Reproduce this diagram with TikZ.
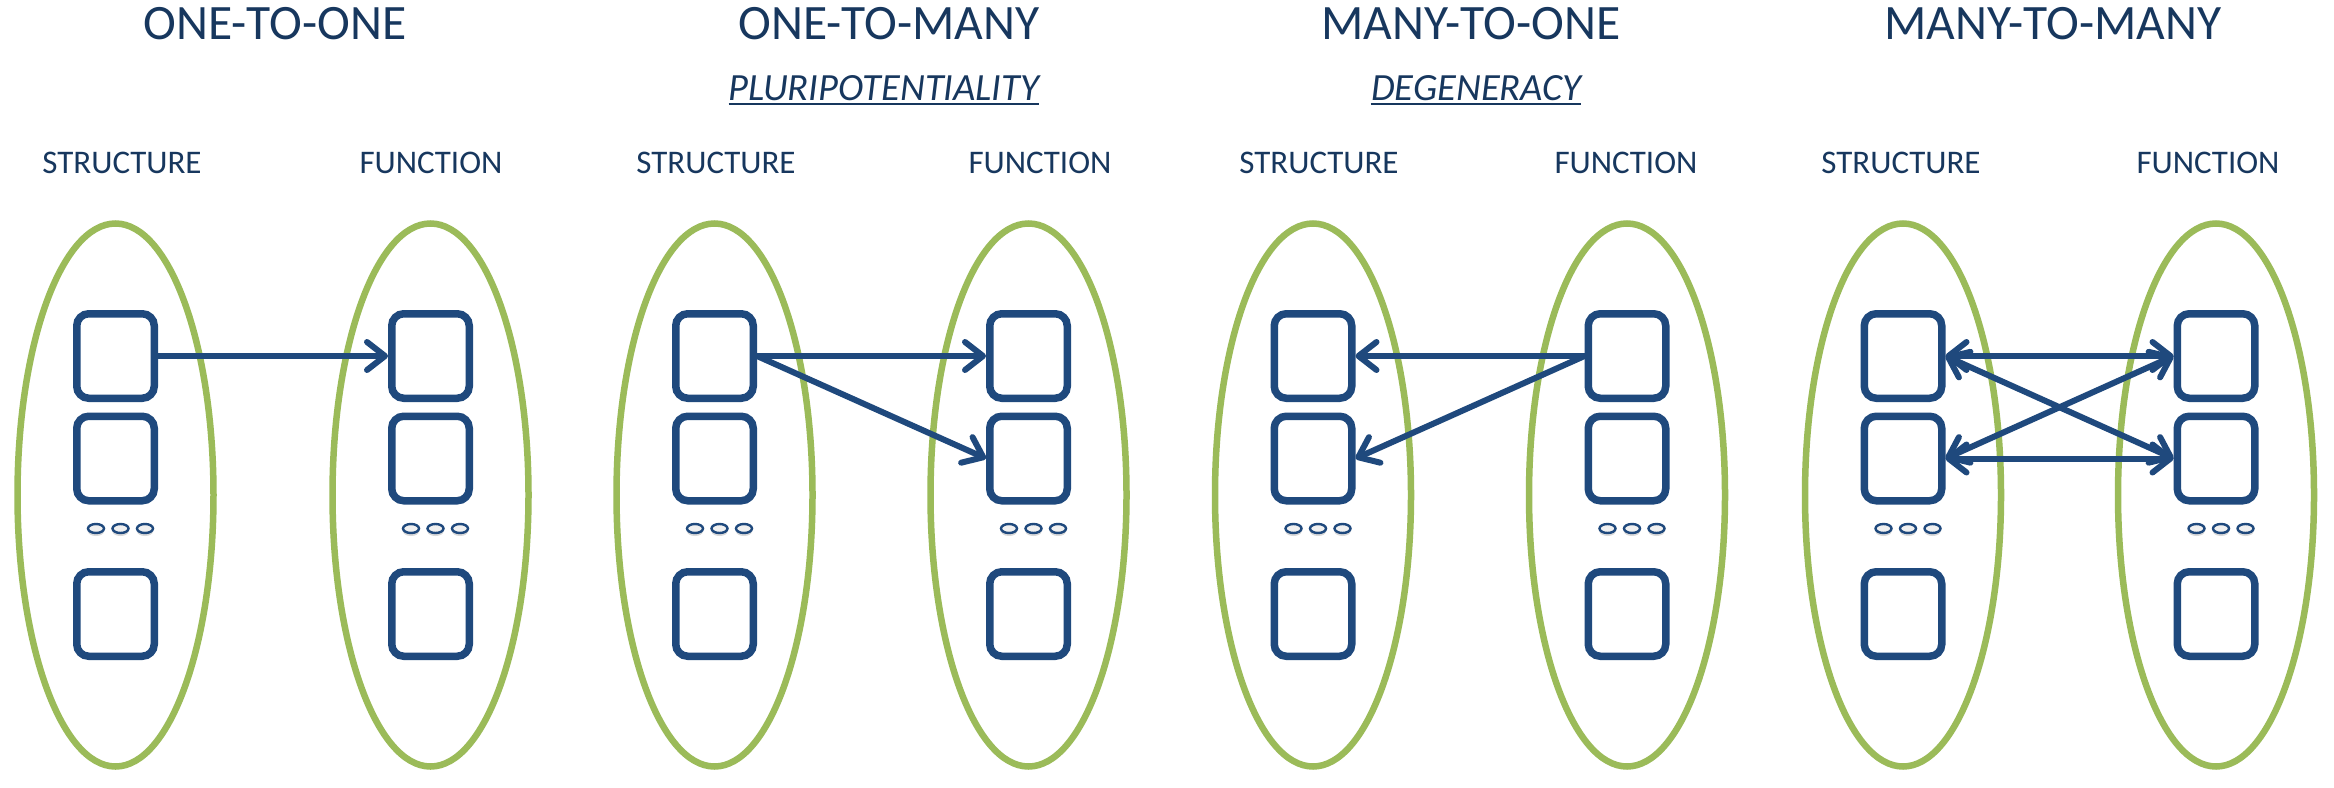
\documentclass[tikz,border=0pt]{standalone}
\usepackage{fontspec}
\setmainfont{Carlito}
\usetikzlibrary{arrows.meta,shapes.geometric,shadows}
\definecolor{navy}{HTML}{17375E}
\definecolor{boxblue}{HTML}{1F497D}
\definecolor{leaf}{HTML}{9BBB59}
\tikzset{
  grp/.style={ellipse, draw=leaf, line width=6.5pt, minimum width=196pt, minimum height=543pt, inner sep=0pt, outer sep=0pt},
  cell/.style={rectangle, rounded corners=12pt, draw=boxblue, line width=7.5pt, fill=white,
    minimum width=77.5pt, minimum height=84.5pt, inner sep=0pt,
    drop shadow={shadow xshift=0pt, shadow yshift=-3pt, opacity=0.16, fill=black}},
  dotmark/.style={ellipse, draw=boxblue, line width=2.4pt, fill=gray!12, minimum width=16pt, minimum height=9pt, inner sep=0pt,
    drop shadow={shadow xshift=0pt, shadow yshift=-3pt, opacity=0.15, fill=black}},
  ttl/.style={text=navy, inner sep=0pt, anchor=base, font=\fontsize{49.5}{49.5}\selectfont},
  lbl/.style={text=navy, inner sep=0pt, anchor=base, font=\fontsize{33}{33}\selectfont},
  subttl/.style={text=navy, inner sep=0pt, anchor=base, font=\fontsize{38.5}{38.5}\selectfont\itshape},
  uline/.style={draw=navy, line width=2.4pt},
  barb/.tip={Straight Barb[length=18pt,width=28pt,round]},
  conn/.style={draw=boxblue, line width=6pt, -barb},
  bconn/.style={draw=boxblue, line width=6pt, barb-barb}
}
\begin{document}
\begin{tikzpicture}[x=1pt,y=-1pt]
\fill[white] (0,0) rectangle (2334,787);
\useasboundingbox (0,0) rectangle (2334,787);

% titles
\node[ttl] (t1) at (275,39) {ONE-TO-ONE};
\node[ttl] (t2) at (889,39) {ONE-TO-MANY};
\node[ttl] (t3) at (1471,39) {MANY-TO-ONE};
\node[ttl] (t4) at (2053,39) {MANY-TO-MANY};

% subtitles
\node[subttl] (s2) at (884,100) {PLURIPOTENTIALITY};
\node[subttl] (s3) at (1476,100) {DEGENERACY};
\draw[uline] ([yshift=-4pt]s2.base west) -- ([yshift=-4pt]s2.base east);
\draw[uline] ([yshift=-4pt]s3.base west) -- ([yshift=-4pt]s3.base east);

% column labels
\node[lbl] (l1s) at (122,173) {STRUCTURE};
\node[lbl] (l1f) at (431,173) {FUNCTION};
\node[lbl] (l2s) at (716,173) {STRUCTURE};
\node[lbl] (l2f) at (1040,173) {FUNCTION};
\node[lbl] (l3s) at (1319,173) {STRUCTURE};
\node[lbl] (l3f) at (1626,173) {FUNCTION};
\node[lbl] (l4s) at (1901,173) {STRUCTURE};
\node[lbl] (l4f) at (2208,173) {FUNCTION};

% panels
\foreach \i/\L/\R in {1/115.5/430.5, 2/714.5/1028.5, 3/1313/1627, 4/1903/2216} {
  \node[grp] (e\i L) at (\L,495) {};
  \node[grp] (e\i R) at (\R,495) {};
  \foreach \s/\c in {L/\L, R/\R} {
    \node[cell] (b\i\s1) at (\c,356) {};
    \node[cell] (b\i\s2) at (\c,458.5) {};
    \node[cell] (b\i\s3) at (\c,614) {};
    \node[dotmark] (d\i\s1) at (\c-19.5,528.5) {};
    \node[dotmark] (d\i\s2) at (\c+5,528.5) {};
    \node[dotmark] (d\i\s3) at (\c+29.5,528.5) {};
  }
}

% connectors
\draw[conn] (b1L1.east) -- (b1R1.west);

\draw[conn] (b2L1.east) -- (b2R1.west);
\draw[conn] (b2L1.east) -- (b2R2.west);

\draw[conn] (b3R1.west) -- (b3L1.east);
\draw[conn] (b3R1.west) -- (b3L2.east);

\draw[bconn] (b4L1.east) -- (b4R1.west);
\draw[bconn] (b4L2.east) -- (b4R2.west);
\draw[bconn] (b4L1.east) -- (b4R2.west);
\draw[bconn] (b4L2.east) -- (b4R1.west);
\end{tikzpicture}
\end{document}
